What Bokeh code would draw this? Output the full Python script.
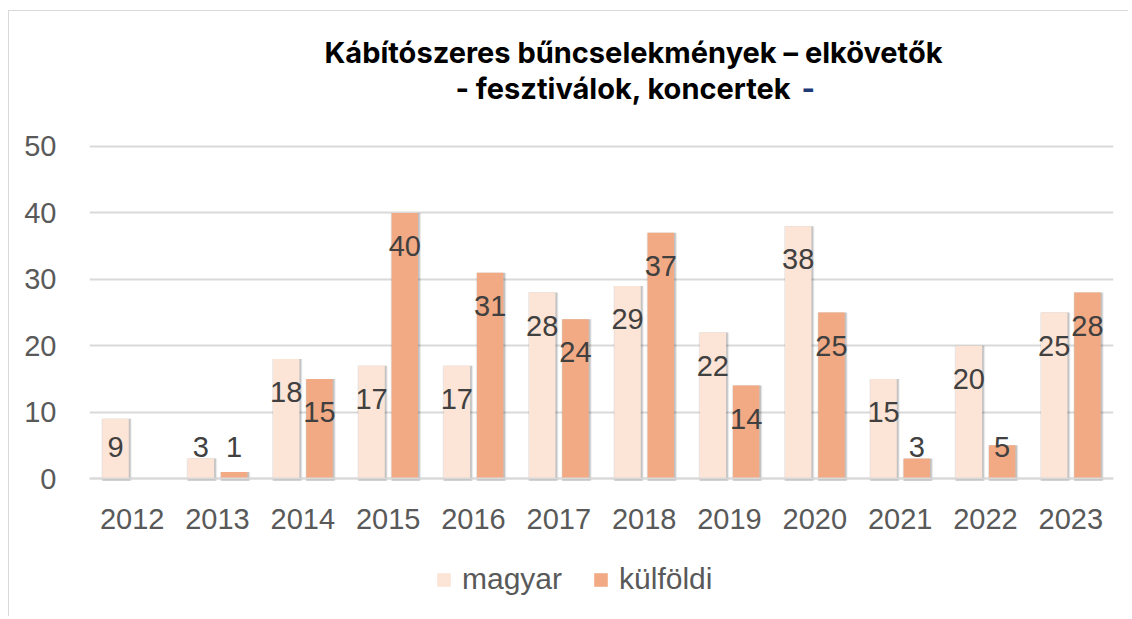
from bokeh.plotting import figure
from bokeh.models import (ColumnDataSource, FactorRange, Range1d, FixedTicker, Legend,
                          LegendItem, Label)
from bokeh.transform import dodge
from bokeh.core.properties import value
from bokeh.embed import file_html
from bokeh.resources import INLINE

years = ["2012", "2013", "2014", "2015", "2016", "2017", "2018", "2019", "2020", "2021", "2022", "2023"]
magyar = [9, 3, 18, 17, 17, 28, 29, 22, 38, 15, 20, 25]
kulfoldi = [None, 1, 15, 40, 31, 24, 37, 14, 25, 3, 5, 28]
series_names = ["magyar", "külföldi"]
y_ticks = [0, 10, 20, 30, 40, 50]
title_line1 = "Kábítószeres bűncselekmények – elkövetők"
title_line2 = "- fesztiválok, koncertek"
title_dash = "-"

C_MAGYAR = "#FCE4D6"
C_KULF = "#F2AA84"
LABEL_COLOR = "#404040"
AXIS_COLOR = "#595959"
FONT = "Liberation Sans"
TITLE_FONT = "Inter"
NAN = float("nan")

def lab_pos(vals):
    return [NAN if v is None else max(v - 5, 4.7) for v in vals]

def lab_txt(vals):
    return ["" if v is None else str(v) for v in vals]

src = ColumnDataSource(dict(
    year=years,
    magyar=magyar,
    kulf=[NAN if v is None else v for v in kulfoldi],
    m_lab=lab_pos(magyar),
    k_lab=lab_pos(kulfoldi),
    m_txt=lab_txt(magyar),
    k_txt=lab_txt(kulfoldi),
))

# the frame covers the full canvas height; the x axis is pinned at y = 0
p = figure(x_range=FactorRange(*years), y_range=Range1d(-20.93, 70.33),
           width=1120, height=606, output_backend="svg", toolbar_location=None,
           min_border_left=80, min_border_right=16, min_border_top=0, min_border_bottom=0)
p.background_fill_color = "white"
p.border_fill_color = "white"
p.outline_line_color = None
p.styles = {"margin-left": "8px", "margin-top": "10px",
            "border-left": "1px solid #d9d9d9", "border-top": "1px solid #d9d9d9"}

OFF = 0.195
BW = 0.31

# soft shadows
for sh_w, sh_a in [(0.05, 0.05), (0.03, 0.08), (0.015, 0.12)]:
    p.vbar(x=dodge("year", -OFF + 0.012, range=p.x_range), top="magyar", bottom=-0.35,
           width=BW + sh_w, source=src, fill_color="black", fill_alpha=sh_a, line_color=None)
    p.vbar(x=dodge("year", OFF + 0.012, range=p.x_range), top="kulf", bottom=-0.35,
           width=BW + sh_w, source=src, fill_color="black", fill_alpha=sh_a, line_color=None)

r_m = p.vbar(x=dodge("year", -OFF, range=p.x_range), top="magyar", width=BW, source=src,
             fill_color=C_MAGYAR, line_color=None)
r_k = p.vbar(x=dodge("year", OFF, range=p.x_range), top="kulf", width=BW, source=src,
             fill_color=C_KULF, line_color=None)

p.text(x=dodge("year", -OFF, range=p.x_range), y="m_lab", text="m_txt", source=src,
       text_align="center", text_baseline="middle", text_color=LABEL_COLOR,
       text_font=value(FONT), text_font_size="29px")
p.text(x=dodge("year", OFF, range=p.x_range), y="k_lab", text="k_txt", source=src,
       text_align="center", text_baseline="middle", text_color=LABEL_COLOR,
       text_font=value(FONT), text_font_size="29px")

# axes
p.yaxis.ticker = FixedTicker(ticks=y_ticks)
p.yaxis.axis_line_color = None
p.yaxis.major_tick_line_color = None
p.yaxis.minor_tick_line_color = None
p.yaxis.major_label_standoff = 27
p.yaxis.major_label_text_font = FONT
p.yaxis.major_label_text_font_size = "29px"
p.yaxis.major_label_text_color = AXIS_COLOR

p.xaxis.fixed_location = 0
p.xaxis.axis_line_color = "#d9d9d9"
p.xaxis.axis_line_width = 2
p.xaxis.major_tick_line_color = None
p.xaxis.minor_tick_line_color = None
p.xaxis.major_label_standoff = 24
p.xaxis.major_label_text_font = FONT
p.xaxis.major_label_text_font_size = "29px"
p.xaxis.major_label_text_color = AXIS_COLOR

p.xgrid.grid_line_color = None
p.ygrid.grid_line_color = "#d9d9d9"
p.ygrid.grid_line_width = 2
p.ygrid.ticker = FixedTicker(ticks=y_ticks)

# title (inside the upper, empty part of the frame)
p.add_layout(Label(x=6, y=64.2, text=title_line1, text_align="center", text_baseline="middle",
                   x_offset=32, text_font=TITLE_FONT, text_font_style="bold",
                   text_font_size="29px", text_color="black"))
p.add_layout(Label(x=6, y=58.7, text=title_line2, text_align="right", text_baseline="middle",
                   x_offset=190, text_font=TITLE_FONT, text_font_style="bold",
                   text_font_size="29px", text_color="black"))
p.add_layout(Label(x=6, y=58.7, text=title_dash, text_align="left", text_baseline="middle",
                   x_offset=200, text_font=TITLE_FONT, text_font_style="bold",
                   text_font_size="29px", text_color="#1F3A78"))

legend = Legend(items=[LegendItem(label=series_names[0], renderers=[r_m]),
                       LegendItem(label=series_names[1], renderers=[r_k])],
                orientation="horizontal", location=(346, 21),
                glyph_width=17, glyph_height=17, label_standoff=10, spacing=30,
                label_text_font=FONT, label_text_font_size="30px",
                label_text_color=AXIS_COLOR, border_line_color=None,
                background_fill_alpha=0, margin=0, padding=4)
p.add_layout(legend, "center")

open("out.html", "w").write(file_html(p, INLINE))
